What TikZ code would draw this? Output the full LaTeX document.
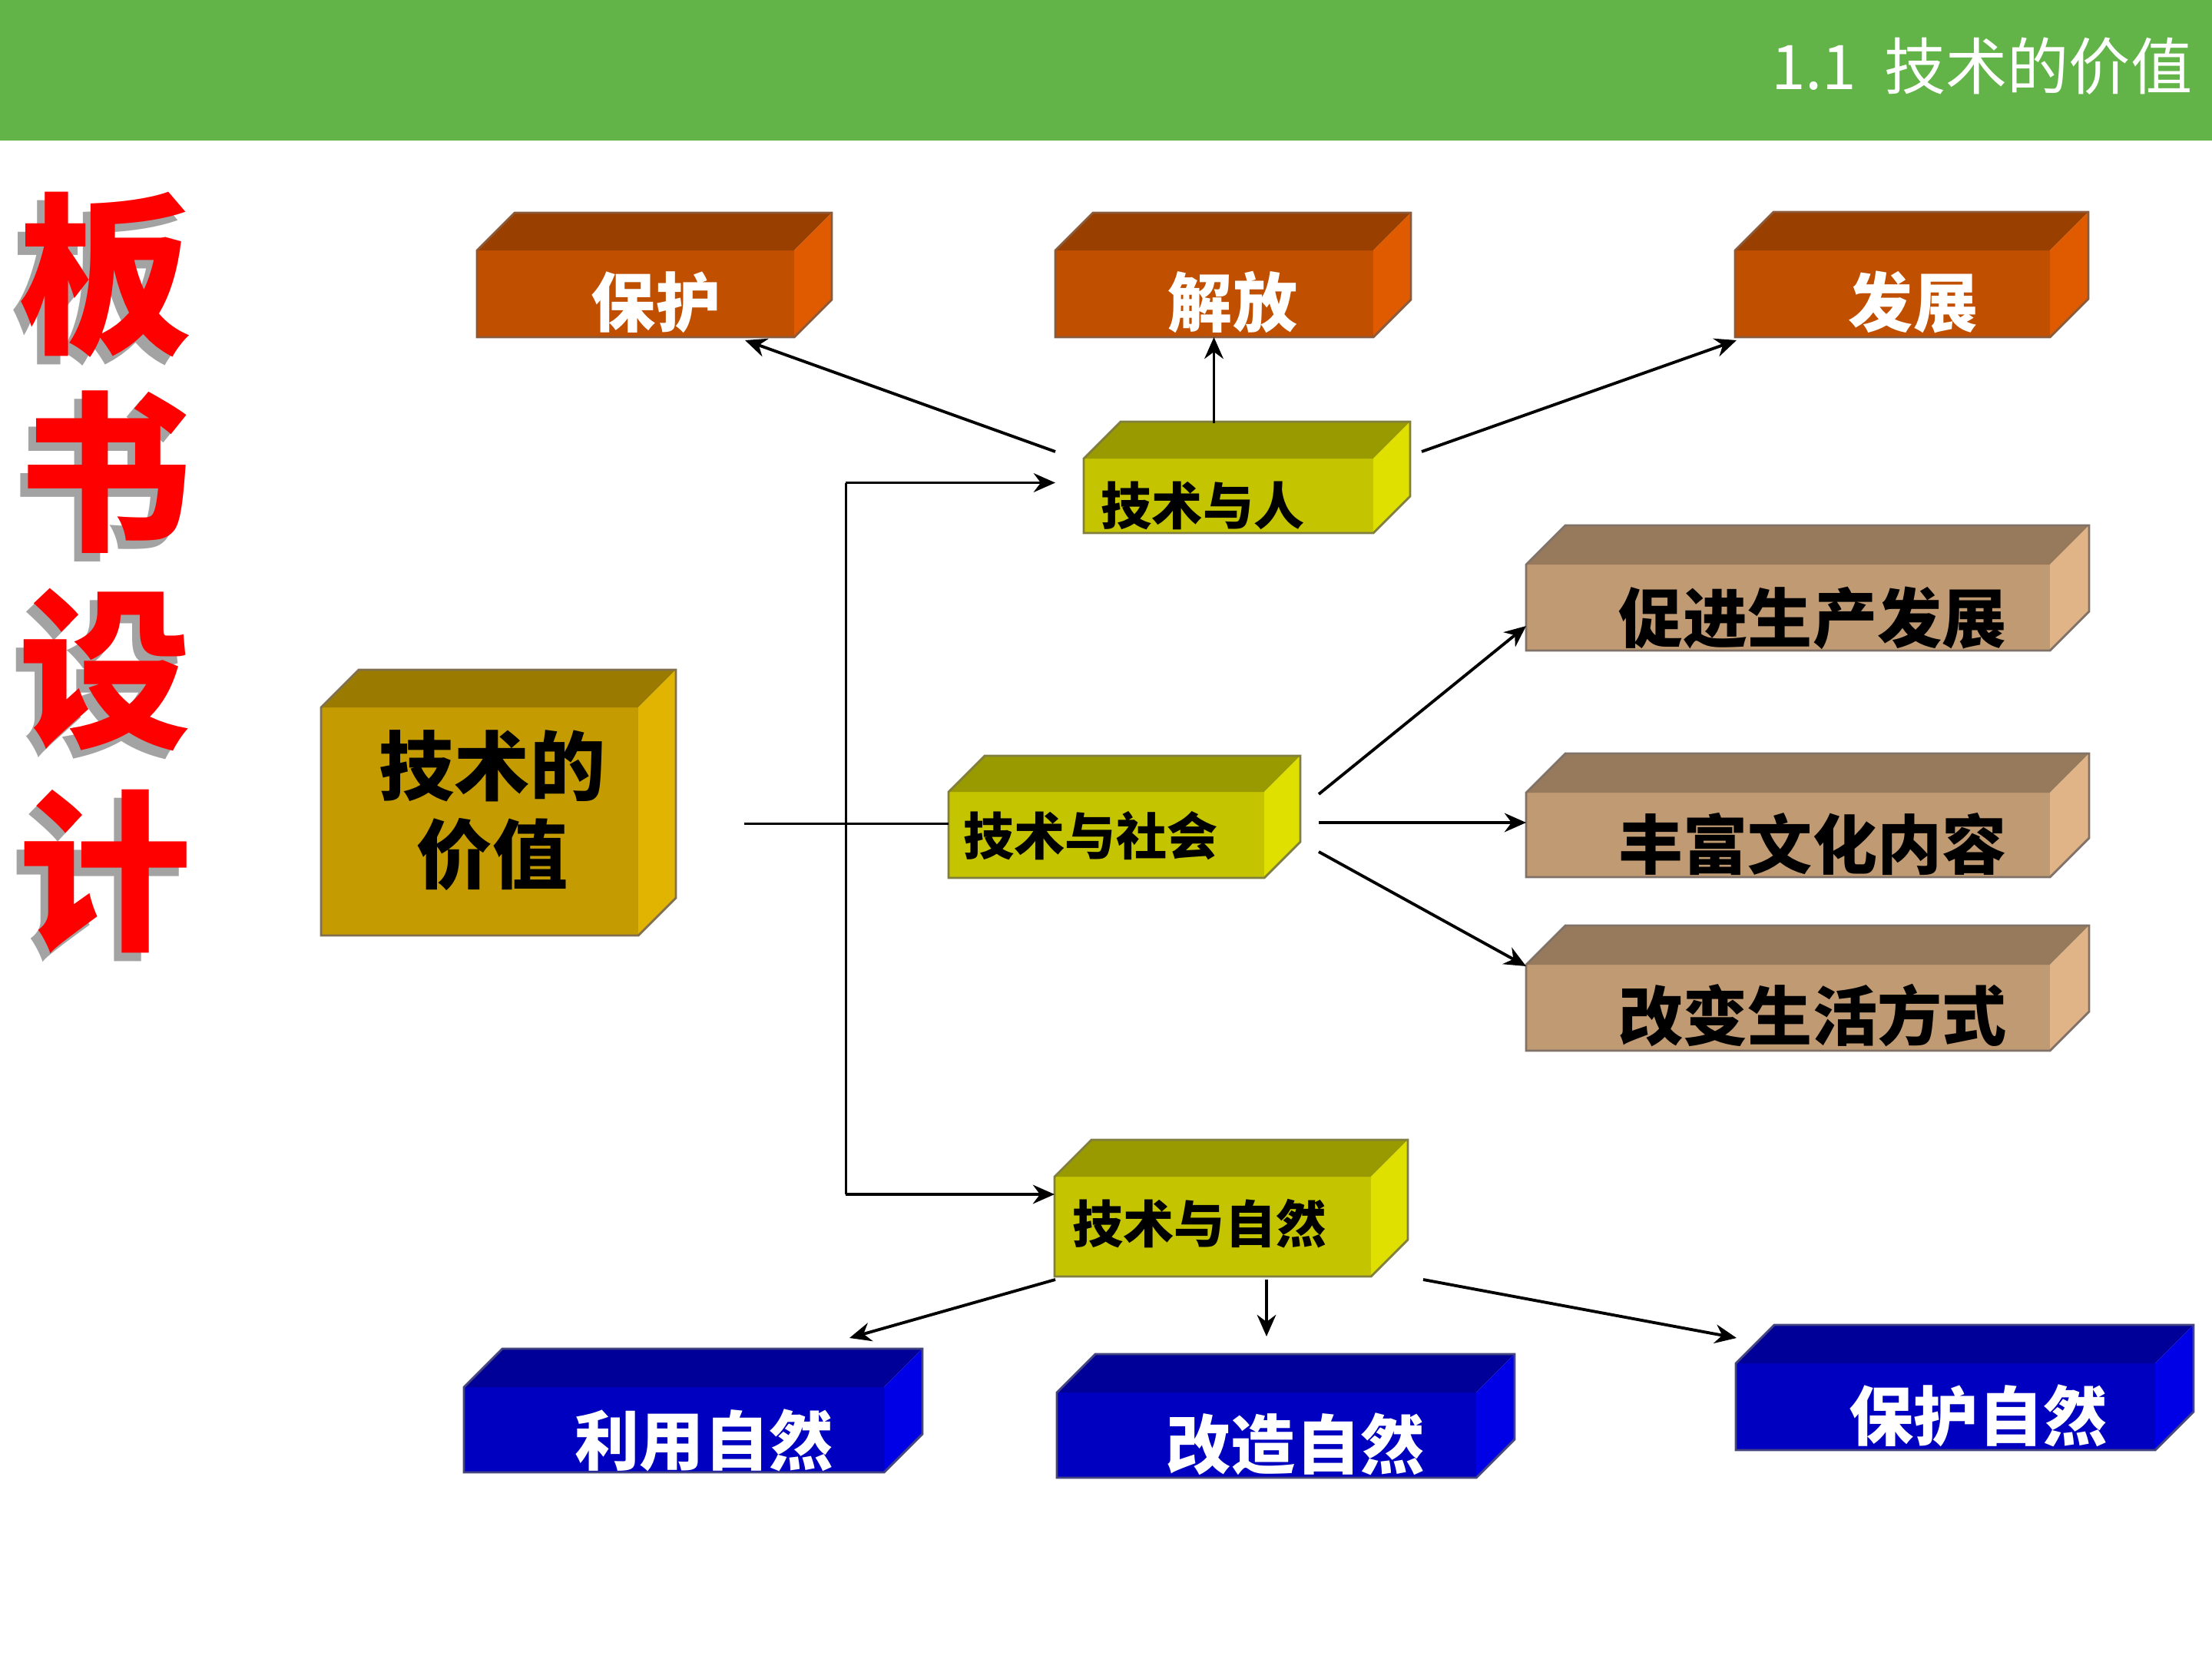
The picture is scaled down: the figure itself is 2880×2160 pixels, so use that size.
\documentclass[tikz,border=0pt]{standalone}
\usepackage{fontspec}
\newfontfamily\hei{Noto Sans CJK SC}
\usetikzlibrary{calc,arrows.meta}
\definecolor{headgreen}{HTML}{62B449}
\definecolor{ortop}{HTML}{993F00}\definecolor{orfront}{HTML}{C04F00}\definecolor{orside}{HTML}{E05A00}\definecolor{orline}{HTML}{8A5A3A}
\definecolor{yetop}{HTML}{999900}\definecolor{yefront}{HTML}{C4C400}\definecolor{yeside}{HTML}{E0E000}\definecolor{yeline}{HTML}{807F40}
\definecolor{gotop}{HTML}{9A7B00}\definecolor{gofront}{HTML}{C49B00}\definecolor{goside}{HTML}{E0B400}\definecolor{goline}{HTML}{807050}
\definecolor{brtop}{HTML}{977A5C}\definecolor{brfront}{HTML}{C09A72}\definecolor{brside}{HTML}{E0B487}\definecolor{brline}{HTML}{807268}
\definecolor{bltop}{HTML}{000099}\definecolor{blfront}{HTML}{0000C0}\definecolor{blside}{HTML}{0000E6}\definecolor{blline}{HTML}{45457F}
\definecolor{redtxt}{HTML}{FF0000}
% name, x1, y1, x2, y2, depth, colour scheme
\newcommand\tdbox[7]{%
  \pgfmathsetlengthmacro\cw{(#4-#2)*0.01cm}%
  \pgfmathsetlengthmacro\ch{(#5-#3)*0.01cm}%
  \node[frontface,fill=#7front,anchor=north west,minimum width=\cw,minimum height=\ch] (#1) at (#2,#3) {};
  \fill[#7top] (#2,#3) -- ({#2+#6},{#3-#6}) -- ({#4+#6},{#3-#6}) -- (#4,#3) -- cycle;
  \fill[#7side] (#4,#3) -- ({#4+#6},{#3-#6}) -- ({#4+#6},{#5-#6}) -- (#4,#5) -- cycle;
  \draw[#7line,line width=0.8pt,line join=miter] (#2,#5) -- (#2,#3) -- ({#2+#6},{#3-#6}) -- ({#4+#6},{#3-#6}) -- ({#4+#6},{#5-#6}) -- (#4,#5) -- cycle;
}
\tikzset{
  frontface/.style={rectangle,inner sep=0pt,outer sep=0pt,draw=none},
  bigw/.style={text=white,font=\hei\bfseries\fontsize{23.9}{28}\selectfont,inner sep=0pt},
  bigk/.style={text=black,font=\hei\bfseries\fontsize{23.9}{28}\selectfont,inner sep=0pt},
  midk/.style={text=black,font=\hei\bfseries\fontsize{18.8}{22}\selectfont,inner sep=0pt},
  arr/.style={line width=1.1pt,-{Stealth[length=8pt,width=7pt]}},
  ln/.style={line width=0.85pt},
  redch/.style={text=redtxt,font=\hei\bfseries\fontsize{64}{70}\selectfont,inner sep=0pt},
  shch/.style={text=black!60,opacity=0.6,font=\hei\bfseries\fontsize{64}{70}\selectfont,inner sep=0pt},
}
\begin{document}
\begin{tikzpicture}[x=0.01cm,y=-0.01cm]
\useasboundingbox (0,0) rectangle (2880,2160);
\fill[white] (0,0) rectangle (2880,2160);
\fill[headgreen] (0,0) rectangle (2880,183);
\node[anchor=east,text=white,font=\hei\fontsize{22.8}{27}\selectfont,inner sep=0pt] (title) at (2855,86) {1.1\hspace{0.45em}技术的价值};

% vertical red title with shadow
\foreach \c/\yy [count=\i] in {板/358,书/615,设/872,计/1135}{
  \node[shch] (sh\i) at ({137-10},{\yy+11}) {\c};
  \node[redch] (red\i) at (137,\yy) {\c};
}

% boxes
\tdbox{bh}{621}{326}{1034}{439}{49}{or}
\tdbox{jf}{1374}{326}{1788}{439}{49}{or}
\tdbox{fz}{2259}{326}{2669}{439}{50}{or}
\tdbox{ren}{1411}{597}{1788}{694}{48}{ye}
\tdbox{jz}{418}{921}{831}{1218}{49}{go}
\tdbox{sh}{1235}{1031}{1646}{1143}{47}{ye}
\tdbox{cj}{1987}{735}{2669}{847}{51}{br}
\tdbox{ff}{1987}{1032}{2669}{1142}{51}{br}
\tdbox{gb}{1987}{1256}{2669}{1368}{51}{br}
\tdbox{zr}{1373}{1532}{1785}{1662}{48}{ye}
\tdbox{ly}{604}{1806}{1151}{1917}{50}{bl}
\tdbox{gz}{1376}{1813}{1922}{1924}{50}{bl}
\tdbox{bz}{2260}{1775}{2806}{1888}{50}{bl}

% texts
\node[bigw] (bh-t) at (854,394) {保护};
\node[bigw] (jf-t) at (1605,394) {解放};
\node[bigw] (fz-t) at (2491,394) {发展};
\node[midk] (ren-t) at (1566,658) {技术与人};
\node[text=black,font=\hei\bfseries\fontsize{27.9}{32.7}\selectfont,inner sep=0pt,align=center] (jz-t) at (641,1055) {技术的\\价值};
\node[midk] (sh-t) at (1420,1088) {技术与社会};
\node[bigk] (cj-t) at (2360,805) {促进生产发展};
\node[bigk] (ff-t) at (2360,1099) {丰富文化内容};
\node[bigk] (gb-t) at (2360,1322) {改变生活方式};
\node[midk] (zr-t) at (1562,1593) {技术与自然};
\node[bigw] (ly-t) at (917,1875) {利用自然};
\node[bigw] (gz-t) at (1687,1880) {改造自然};
\node[bigw] (bz-t) at (2576,1843) {保护自然};

% connectors: 技术与人
\coordinate (ren-l) at ($(ren.north west)+(-37,-9)$);
\coordinate (ren-u) at ($(ren.north)+(-19,-46)$);
\coordinate (ren-r) at ($(ren.north east)+(63,-9)$);
\draw[arr] (ren-l) -- ($(bh.south east)+(-64,4)$);
\draw[arr] (ren-u) -- (ren-u |- jf.south);
\draw[arr] (ren-r) -- ($(fz.south west)+(2,4)$);

% trunk
\coordinate (t1) at ($(ren.west)+(-310,-17)$);
\coordinate (t2) at ($(zr.west)+(-272,-42)$);
\draw[ln] (t1) -- (t2);
\draw[arr] (t1) -- ($(t1)+(273,0)$);
\draw[arr] (t2) -- (t2 -| zr.west);
\coordinate (jz-o) at ($(jz.east)+(138,2.5)$);
\draw[ln] (jz-o) -- (jz-o -| sh.west);

% 技术与社会
\coordinate (sh-a) at ($(sh.east)+(71,-53)$);
\coordinate (sh-b) at ($(sh.east)+(71,-16)$);
\coordinate (sh-c) at ($(sh.east)+(71,22)$);
\draw[arr] (sh-a) -- ($(cj.south west)+(0,-32)$);
\draw[arr] (sh-b) -- (sh-b -| ff.west);
\draw[arr] (sh-c) -- ($(gb.north west)+(0,2)$);

% 技术与自然
\draw[arr] ($(zr.south west)+(1,4)$) -- ($(ly.north east)+(-45,-64)$);
\draw[arr] ($(zr.south)+(70,4)$) -- ($(gz.north)+(0,-73)$);
\draw[arr] ($(zr.south east)+(68,4)$) -- ($(bz.north west)+(1,-33)$);
\end{tikzpicture}
\end{document}
